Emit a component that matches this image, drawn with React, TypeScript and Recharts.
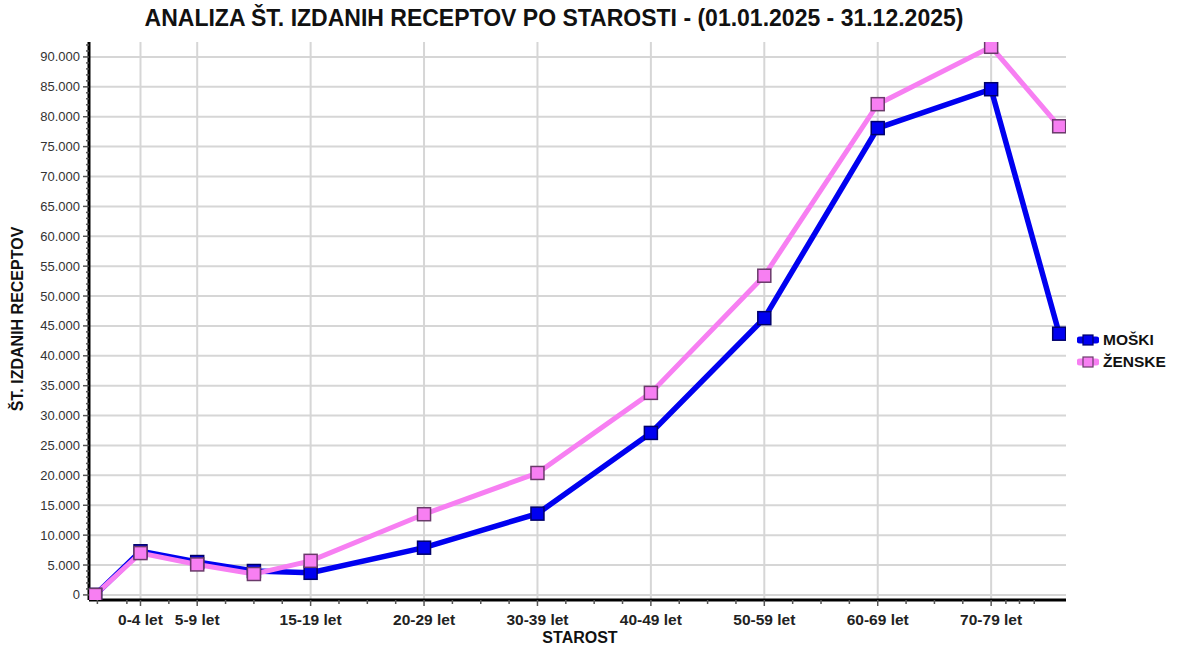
import React from 'react';
import { LineChart, Line, XAxis, YAxis, CartesianGrid } from 'recharts';

// x position of each age group on the numeric axis
const agePositions = [-4, 0, 5, 10, 15, 25, 35, 45, 55, 65, 75, 81];
const moski = [0, 7300, 5500, 4000, 3700, 7900, 13600, 27100, 46300, 78100, 84600, 43700];
const zenske = [0, 7000, 5100, 3500, 5700, 13500, 20400, 33800, 53400, 82100, 91700, 78400];

const majorXTicks = [0, 5, 15, 25, 35, 45, 55, 65, 75];
const majorXLabels = ['0-4 let', '5-9 let', '15-19 let', '20-29 let', '30-39 let', '40-49 let', '50-59 let', '60-69 let', '70-79 let'];
const minorXTicks = [-3.8, -1.2, 2.5, 7.5, 10, 12.5, 17.5, 20, 22.5, 27.5, 30, 32.5, 37.5, 40, 42.5, 47.5, 50, 52.5, 57.5, 60, 62.5, 67.5, 70, 72.5, 76.3, 77.5, 78.8];

const majorYTicks = [0, 5000, 10000, 15000, 20000, 25000, 30000, 35000, 40000, 45000, 50000, 55000, 60000, 65000, 70000, 75000, 80000, 85000, 90000];

const seriesNames = ['MOŠKI', 'ŽENSKE'];

const data = agePositions.map((x, i) => ({ x, moski: moski[i], zenske: zenske[i] }));

const allXTicks = [...majorXTicks, ...minorXTicks].sort((a, b) => a - b);
const allYTicks: number[] = [];
for (let v = 0; v <= 92000; v += 1000) allYTicks.push(v);

const BLUE = '#0000f0';
const PINK = '#f77ff2';
const FONT = '"Liberation Sans", Arial, sans-serif';

const fmt = (v: number) => String(v).replace(/\B(?=(\d{3})+(?!\d))/g, '.');

const YTick = (props: any) => {
  const { x, y, payload } = props;
  const major = payload.value % 5000 === 0;
  return (
    <g>
      <line x1={x - (major ? 6 : 3)} x2={x} y1={y} y2={y} stroke="#555" strokeWidth={1.5} />
      {major && (
        <text x={x - 9} y={y} dy={4.5} textAnchor="end" fontSize={13} fill="#333" fontFamily={FONT}>
          {fmt(payload.value)}
        </text>
      )}
    </g>
  );
};

const XTick = (props: any) => {
  const { x, y, payload } = props;
  const idx = majorXTicks.indexOf(payload.value);
  const major = idx >= 0;
  return (
    <g>
      <line x1={x} x2={x} y1={y} y2={y + (major ? 6 : 4)} stroke="#555" strokeWidth={1.5} />
      {major && (
        <text x={x} y={y} dy={25} textAnchor="middle" fontSize={15.5} fontWeight="bold" fill="#222" fontFamily={FONT}>
          {majorXLabels[idx]}
        </text>
      )}
    </g>
  );
};

const squareDot = (fill: string, stroke: string) => (props: any) => {
  const { cx, cy, index } = props;
  return <rect key={`d-${index}`} x={cx - 6.5} y={cy - 6.5} width={13} height={13} fill={fill} stroke={stroke} strokeWidth={1.5} />;
};

const legendItems = [
  { name: seriesNames[0], color: BLUE, border: '#00006a' },
  { name: seriesNames[1], color: PINK, border: '#6a3a6a' },
];

export default function App() {
  return (
    <div style={{ position: 'absolute', left: 0, top: 0, width: 1202, height: 646, background: '#fff' }}>
      <div style={{
        position: 'absolute', left: 0, width: 1108, top: 5, textAlign: 'center', whiteSpace: 'nowrap',
        fontFamily: FONT, fontWeight: 'bold', fontSize: 23, color: '#111'
      }}>
        ANALIZA ŠT. IZDANIH RECEPTOV PO STAROSTI - (01.01.2025 - 31.12.2025)
      </div>
      <div style={{
        position: 'absolute', left: 18, top: 319, transform: 'translate(-50%, -50%) rotate(-90deg)',
        whiteSpace: 'nowrap', fontFamily: FONT, fontWeight: 'bold', fontSize: 16, color: '#111'
      }}>
        ŠT. IZDANIH RECEPTOV
      </div>
      <div style={{
        position: 'absolute', left: 580, top: 638, transform: 'translate(-50%, -50%)',
        fontFamily: FONT, fontWeight: 'bold', fontSize: 16, color: '#111'
      }}>
        STAROST
      </div>
      <div style={{ position: 'absolute', left: 1077, top: 329, fontFamily: FONT, fontSize: 15.5, fontWeight: 'bold', color: '#111' }}>
        {legendItems.map((s) => (
          <div key={s.name} style={{ display: 'flex', alignItems: 'center', height: 22 }}>
            <svg width={22} height={14} style={{ marginRight: 4 }}>
              <line x1={3} x2={19} y1={7} y2={7} stroke={s.color} strokeWidth={7} strokeLinecap="round" />
              <rect x={6} y={2} width={10} height={10} fill={s.color} stroke={s.border} strokeWidth={1.2} />
            </svg>
            {s.name}
          </div>
        ))}
      </div>
      <LineChart width={1202} height={646} data={data} margin={{ top: 42, right: 136, bottom: 16, left: 9 }}>
        <CartesianGrid
          stroke="#d6d6d6"
          strokeWidth={2}
          horizontalValues={majorYTicks}
          verticalValues={majorXTicks}
        />
        <XAxis
          dataKey="x"
          type="number"
          domain={[-4.54, 81.6]}
          ticks={allXTicks}
          interval={0}
          tick={<XTick />}
          tickLine={false}
          tickSize={0}
          tickMargin={0}
          axisLine={{ stroke: '#000', strokeWidth: 3 }}
          height={30}
          allowDataOverflow
        />
        <YAxis
          type="number"
          domain={[-850, 92500]}
          ticks={allYTicks}
          interval={0}
          tick={<YTick />}
          tickLine={false}
          tickSize={0}
          tickMargin={0}
          axisLine={{ stroke: '#000', strokeWidth: 3 }}
          width={80}
          allowDataOverflow
        />
        <Line
          dataKey="moski"
          name={seriesNames[0]}
          stroke={BLUE}
          strokeWidth={5.5}
          dot={squareDot(BLUE, '#00006a')}
          activeDot={false}
          isAnimationActive={false}
        />
        <Line
          dataKey="zenske"
          name={seriesNames[1]}
          stroke={PINK}
          strokeWidth={5}
          dot={squareDot(PINK, '#6a3a6a')}
          activeDot={false}
          isAnimationActive={false}
        />
      </LineChart>
    </div>
  );
}
